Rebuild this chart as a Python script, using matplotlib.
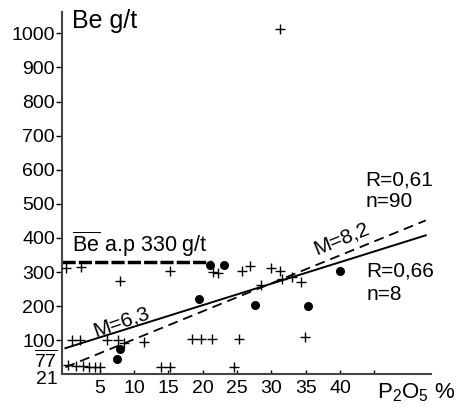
import matplotlib
matplotlib.use("Agg")
import matplotlib.pyplot as plt
import numpy as np

plt.rcParams["font.family"] = ["Liberation Sans", "DejaVu Sans"]
plt.rcParams["mathtext.fontset"] = "custom"
plt.rcParams["mathtext.rm"] = "Liberation Sans"
plt.rcParams["mathtext.it"] = "Liberation Sans:italic"

# all samples (P2O5 %, Be g/t)
cross_p2o5 = [0.1, 2.3, 8.0, 15.2, 21.5, 22.3, 0.9, 2.1, 6.0, 7.7, 8.6, 11.5,
              18.4, 19.8, 21.4, 0.4, 1.6, 2.6, 3.4, 4.3, 5.0, 14.0, 15.2, 24.5,
              25.3, 25.8, 26.9, 30.0, 31.2, 28.5, 31.5, 33.0, 34.3, 34.9, 31.2]
cross_be = [311, 316, 275, 303, 301, 298, 101, 101, 101, 101, 92, 95,
            103, 103, 103, 28, 26, 26, 23, 23, 23, 21, 21, 23,
            103, 304, 317, 312, 303, 262, 280, 285, 272, 109, 1012]

# phosphorite samples
dot_p2o5 = [21.0, 23.1, 19.4, 7.9, 7.5, 27.6, 35.3, 40.0]
dot_be = [321, 321, 221, 74, 45, 204, 200, 304]

# regressions: Be = a + M * P2O5
fit_all = (21, 8.2)   # R=0,61 n=90
fit_dots = (77, 6.3)  # R=0,66 n=8
be_mean = 330

x_ticks = [5, 10, 15, 20, 25, 30, 35, 40, 45]
x_labels = ["5", "10", "15", "20", "25", "30", "35", "40", ""]
y_ticks = [100, 200, 300, 400, 500, 600, 700, 800, 900, 1000]

fig = plt.figure(figsize=(4.59, 4.07), dpi=100)
ax = fig.add_axes([0.135, 0.08, 0.803, 0.891])

ax.scatter(cross_p2o5, cross_be, marker="+", s=45, linewidths=1.0, color="black", zorder=3)
ax.scatter(dot_p2o5, dot_be, marker="o", s=30, color="black", zorder=4)

xf = np.array([0, 52.5])
ax.plot(xf, fit_dots[0] + fit_dots[1] * xf, color="black", lw=1.4)
ax.plot(xf, fit_all[0] + fit_all[1] * xf, color="black", lw=1.3,
        linestyle=(0, (5.5, 3.3)))
ax.plot([-0.5, 21.3], [be_mean, be_mean], color="black", lw=2.5,
        linestyle=(0, (3.8, 0.9)))

ax.set_xlim(-0.5, 53.2)
ax.set_ylim(0, 1063)
for side in ("top", "right"):
    ax.spines[side].set_visible(False)
for side in ("left", "bottom"):
    ax.spines[side].set_linewidth(1.5)
    ax.spines[side].set_color("#444444")

ax.set_xticks(x_ticks)
ax.set_xticklabels(x_labels)
ax.set_yticks(y_ticks)
ax.tick_params(axis="y", direction="out", length=4, width=1, pad=1, labelsize=14)
ax.tick_params(axis="x", direction="in", length=3, width=1, pad=4, labelsize=14)

ax.text(-1.1, 42, r"$\overline{77}$", ha="right", va="center", fontsize=14)
ax.text(-1.1, -16, "21", ha="right", va="center", fontsize=14)

ax.text(0.9, 1070, "Be g/t", ha="left", va="top", fontsize=18)
ax.text(45.4, -54, r"P$_2$O$_5$ %", ha="left", va="center", fontsize=16)

ax.text(0.9, 359, r"$\overline{\mathrm{Be}}$ a.p 330 g/t", ha="left", va="baseline", fontsize=15.5)
ax.text(43.7, 555, "R=0,61", ha="left", va="baseline", fontsize=15)
ax.text(43.7, 490, "n=90", ha="left", va="baseline", fontsize=15)
ax.text(43.9, 286, "R=0,66", ha="left", va="baseline", fontsize=15)
ax.text(43.9, 218, "n=8", ha="left", va="baseline", fontsize=15)
ax.text(40.2, 397, "M=8,2", ha="center", va="center", rotation=22, fontsize=15)
ax.text(8.1, 154, "M=6,3", ha="center", va="center", rotation=19, fontsize=15)

fig.savefig("out.png", dpi=100)
